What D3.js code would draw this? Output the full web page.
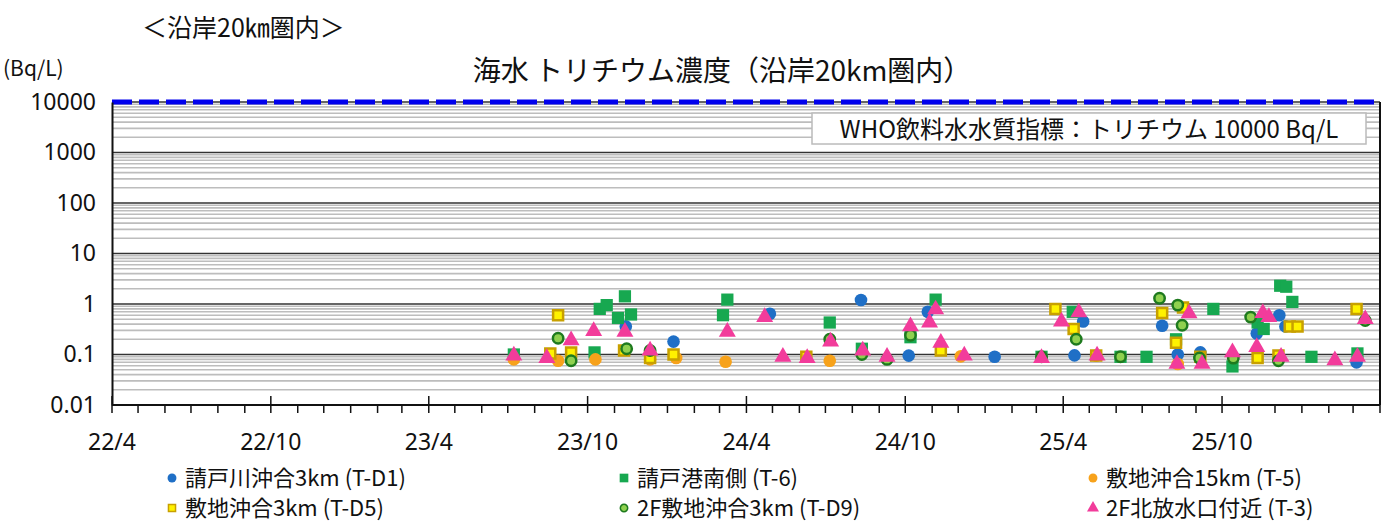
<!DOCTYPE html>
<html>
<head>
<meta charset="utf-8">
<script src="https://cdn.jsdelivr.net/npm/d3@7"></script>
<style>
  body { margin: 0; background: #fff; }
  text { font-family: "Noto Sans CJK JP", "Noto Sans", sans-serif; fill: #111; }
</style>
</head>
<body>
<div id="chart"></div>
<script>
// Données : [date, Bq/L]
const seriesNames = ["請戸川沖合3km (T-D1)", "請戸港南側 (T-6)", "敷地沖合15km (T-5)",
    "敷地沖合3km (T-D5)", "2F敷地沖合3km (T-D9)", "2F北放水口付近 (T-3)"];

const tD1 = [["2023-11-14", 0.36], ["2024-01-08", 0.18], ["2024-04-28", 0.64], ["2024-08-11", 1.2],
    ["2024-10-05", 0.095], ["2024-10-27", 0.7], ["2025-01-12", 0.09], ["2025-04-14", 0.096],
    ["2025-04-24", 0.45], ["2025-07-24", 0.37], ["2025-08-11", 0.1], ["2025-09-06", 0.11],
    ["2025-11-10", 0.26], ["2025-12-06", 0.6], ["2025-12-13", 0.36], ["2026-03-05", 0.07]];

const t6 = [["2023-07-08", 0.1], ["2023-10-09", 0.11], ["2023-10-15", 0.8], ["2023-10-23", 0.95],
    ["2023-11-05", 0.53], ["2023-11-13", 1.42], ["2023-11-20", 0.62], ["2024-03-05", 0.6],
    ["2024-03-10", 1.22], ["2024-07-06", 0.43], ["2024-08-12", 0.13], ["2024-10-07", 0.22],
    ["2024-11-05", 1.22], ["2025-03-07", 0.09], ["2025-04-12", 0.7], ["2025-06-06", 0.09],
    ["2025-07-06", 0.09], ["2025-08-09", 0.2], ["2025-09-21", 0.8], ["2025-10-13", 0.058],
    ["2025-11-11", 0.43], ["2025-11-18", 0.32], ["2025-12-07", 2.3], ["2025-12-14", 2.2],
    ["2025-12-21", 1.1], ["2026-01-12", 0.09], ["2026-03-06", 0.105]];

const t5 = [["2023-07-08", 0.08], ["2023-08-28", 0.075], ["2023-10-10", 0.08], ["2023-12-12", 0.08],
    ["2024-01-11", 0.085], ["2024-03-08", 0.072], ["2024-07-06", 0.075], ["2024-12-04", 0.092],
    ["2025-05-09", 0.095], ["2025-08-11", 0.065]];

const tD5 = [["2023-08-19", 0.105], ["2023-08-28", 0.6], ["2023-09-12", 0.11], ["2023-11-12", 0.12],
    ["2023-12-12", 0.085], ["2024-01-08", 0.1], ["2024-06-09", 0.09], ["2024-11-11", 0.12],
    ["2025-03-23", 0.8], ["2025-04-13", 0.32], ["2025-05-09", 0.095], ["2025-07-24", 0.66],
    ["2025-08-09", 0.17], ["2025-08-17", 0.85], ["2025-09-06", 0.09], ["2025-11-11", 0.085],
    ["2025-12-05", 0.095], ["2025-12-18", 0.36], ["2025-12-27", 0.36], ["2026-03-05", 0.8]];

const tD9 = [["2023-08-28", 0.21], ["2023-09-12", 0.075], ["2023-11-15", 0.13], ["2023-12-12", 0.12],
    ["2024-07-06", 0.2], ["2024-08-12", 0.1], ["2024-09-10", 0.08], ["2024-10-07", 0.24],
    ["2025-03-07", 0.09], ["2025-04-16", 0.2], ["2025-06-06", 0.09], ["2025-07-21", 1.3],
    ["2025-08-11", 0.95], ["2025-08-16", 0.38], ["2025-09-05", 0.085], ["2025-10-14", 0.085],
    ["2025-11-03", 0.55], ["2025-12-05", 0.075], ["2026-03-15", 0.47]];

const t3 = [["2023-07-08", 0.095], ["2023-08-15", 0.085], ["2023-09-12", 0.19], ["2023-10-08", 0.29],
    ["2023-11-13", 0.28], ["2023-12-12", 0.12], ["2024-03-10", 0.28], ["2024-04-22", 0.55],
    ["2024-05-13", 0.09], ["2024-06-10", 0.085], ["2024-07-07", 0.18], ["2024-08-13", 0.12],
    ["2024-09-10", 0.09], ["2024-10-07", 0.36], ["2024-10-29", 0.43], ["2024-11-05", 0.78],
    ["2024-11-11", 0.17], ["2024-12-08", 0.095], ["2025-03-07", 0.085], ["2025-03-30", 0.45],
    ["2025-04-19", 0.68], ["2025-05-10", 0.095], ["2025-08-10", 0.065], ["2025-08-24", 0.65],
    ["2025-09-08", 0.065], ["2025-10-13", 0.11], ["2025-11-10", 0.14], ["2025-11-17", 0.66],
    ["2025-11-24", 0.55], ["2025-12-08", 0.09], ["2026-02-08", 0.077], ["2026-03-06", 0.09],
    ["2026-03-15", 0.5]];

const yTicks = [0.01, 0.1, 1, 10, 100, 1000, 10000];
const xTickLabels = ["22/4", "22/10", "23/4", "23/10", "24/4", "24/10", "25/4", "25/10"];
const whoLimit = 10000;

// Styles des marqueurs
const styles = [
    { data: tD1, shape: d3.symbolCircle, size: 125, fill: "#1f6fc6", stroke: "none", sw: 0 },
    { data: t6, shape: d3.symbolSquare, size: 150, fill: "#17a850", stroke: "none", sw: 0 },
    { data: t5, shape: d3.symbolCircle, size: 125, fill: "#f7a21b", stroke: "none", sw: 0 },
    { data: tD5, shape: d3.symbolSquare, size: 100, fill: "#fff200", stroke: "#c8a000", sw: 2.5 },
    { data: tD9, shape: d3.symbolCircle, size: 85, fill: "#8fd14f", stroke: "#1e7a1e", sw: 2.5 },
    { data: t3, shape: d3.symbolTriangle, size: 125, fill: "#f23c9b", stroke: "none", sw: 0 }
];

const svg = d3.select("#chart")
    .append("svg")
    .attr("width", 1386)
    .attr("height", 522);

const plotLeft = 112, plotRight = 1380, plotTop = 102, plotBottom = 405;
const parse = d3.timeParse("%Y-%m-%d");

const x = d3.scaleTime()
    .domain([new Date(2022, 3, 1), new Date(2026, 3, 1)])
    .range([plotLeft, plotRight]);

const y = d3.scaleLog()
    .domain([0.01, 10000])
    .range([plotBottom, plotTop]);

// Titres
svg.append("text").attr("x", 142).attr("y", 37)
    .style("font-size", "25px").text("＜沿岸20㎞圏内＞");
svg.append("text").attr("x", 3).attr("y", 76)
    .style("font-size", "21px").text("(Bq/L)");
svg.append("text").attr("x", 722).attr("y", 81)
    .attr("text-anchor", "middle")
    .style("font-size", "28px").text("海水 トリチウム濃度（沿岸20km圏内）");

// Grille mineure
const minor = [];
for (let e = -2; e < 4; e++) for (let k = 2; k <= 9; k++) minor.push(k * Math.pow(10, e));
svg.append("g").selectAll("line").data(minor).enter().append("line")
    .attr("x1", plotLeft).attr("x2", plotRight)
    .attr("y1", d => y(d)).attr("y2", d => y(d))
    .attr("stroke", "#bdbdbd").attr("stroke-width", 1.6);

// Grille majeure
svg.append("g").selectAll("line").data(yTicks.slice(1)).enter().append("line")
    .attr("x1", plotLeft).attr("x2", plotRight)
    .attr("y1", d => y(d)).attr("y2", d => y(d))
    .attr("stroke", "#333").attr("stroke-width", 1.5);

// Ligne OMS
svg.append("line")
    .attr("x1", plotLeft).attr("x2", plotRight)
    .attr("y1", y(whoLimit)).attr("y2", y(whoLimit))
    .attr("stroke", "#0000ee").attr("stroke-width", 5)
    .attr("stroke-dasharray", "20,7");

const box = svg.append("g");
box.append("rect").attr("x", 812).attr("y", 113).attr("width", 554).attr("height", 31)
    .attr("fill", "#fff").attr("stroke", "#bbb").attr("stroke-width", 1.5);
box.append("text").attr("x", 1089).attr("y", 138).attr("text-anchor", "middle")
    .style("font-size", "24px").text("WHO飲料水水質指標：トリチウム 10000 Bq/L");

// Axe Y
svg.append("g")
    .attr("transform", `translate(${plotLeft},0)`)
    .call(d3.axisLeft(y).tickValues(yTicks).tickFormat(d => String(d)).tickSize(0).tickPadding(16))
    .call(g => g.select(".domain").attr("stroke", "#111").attr("stroke-width", 2))
    .call(g => g.selectAll("text").style("font-size", "23px")
        .style("font-family", "'Noto Sans', sans-serif").attr("fill", "#111"));

// Bordure droite
svg.append("line").attr("x1", plotRight).attr("x2", plotRight).attr("y1", plotTop).attr("y2", plotBottom)
    .attr("stroke", "#111").attr("stroke-width", 2);

// Axe X : graduations mensuelles
const months = d3.timeMonth.range(new Date(2022, 3, 1), new Date(2026, 3, 2));
svg.append("g").selectAll("line").data(months).enter().append("line")
    .attr("x1", d => x(d)).attr("x2", d => x(d))
    .attr("y1", d => (d.getMonth() % 6 === 3 ? plotBottom - 9 : plotBottom))
    .attr("y2", plotBottom + 8)
    .attr("stroke", "#111").attr("stroke-width", 1.5);
svg.append("line").attr("x1", plotLeft).attr("x2", plotRight).attr("y1", plotBottom).attr("y2", plotBottom)
    .attr("stroke", "#111").attr("stroke-width", 2);

const halfYears = months.filter(d => d.getMonth() % 6 === 3).slice(0, xTickLabels.length);
svg.append("g").selectAll("text").data(halfYears).enter().append("text")
    .attr("x", d => x(d)).attr("y", 450)
    .attr("text-anchor", "middle")
    .style("font-size", "23px").style("font-family", "'Noto Sans', sans-serif")
    .text((d, i) => xTickLabels[i]);

// Points
styles.forEach(s => {
    svg.append("g").selectAll("path").data(s.data).enter().append("path")
        .attr("transform", d => `translate(${x(parse(d[0]))},${y(d[1])})`)
        .attr("d", d3.symbol().type(s.shape).size(s.size))
        .attr("fill", s.fill)
        .attr("stroke", s.stroke)
        .attr("stroke-width", s.sw);
});

// Légende
const legX = [172, 624, 1093], legY = [478, 508];
styles.forEach((s, i) => {
    const lx = legX[i % 3], ly = legY[Math.floor(i / 3)];
    svg.append("path")
        .attr("transform", `translate(${lx},${ly})`)
        .attr("d", d3.symbol().type(s.shape).size(s.size * 0.5))
        .attr("fill", s.fill).attr("stroke", s.stroke).attr("stroke-width", s.sw * 0.6);
    svg.append("text").attr("x", lx + 13).attr("y", ly + 8)
        .style("font-size", "22px").text(seriesNames[i]);
});
</script>
</body>
</html>
